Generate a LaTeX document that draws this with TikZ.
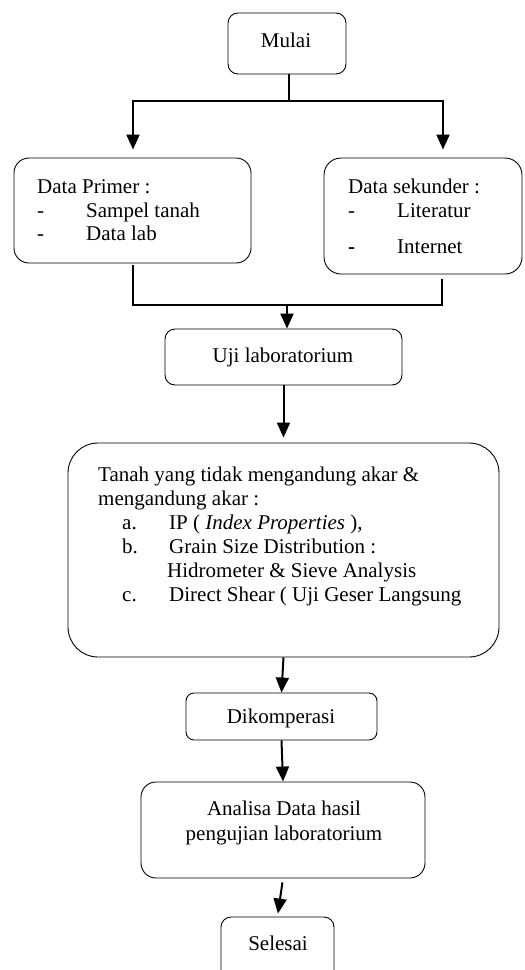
\documentclass[tikz,border=0pt]{standalone}
\usepackage{fontspec}
\setmainfont{Liberation Serif}
\usetikzlibrary{arrows.meta}
\begin{document}
\begin{tikzpicture}[x=1pt,y=-1pt,
  box/.style={draw, line width=0.9pt, rounded corners=#1, inner sep=0pt},
  box/.default=10pt,
  txt/.style={inner sep=0pt, anchor=base west, font=\fontsize{21}{24}\selectfont},
  ctxt/.style={inner sep=0pt, anchor=base, font=\fontsize{21}{24}\selectfont},
  flow/.style={line width=2pt, -{Triangle[length=15pt,width=13pt]}},
  link/.style={line width=1.8pt},
]
\useasboundingbox (0,0) rectangle (525,970);
\clip (0,0) rectangle (525,970);

% boxes
\node[box=10pt, minimum width=118pt, minimum height=61pt] (mulai) at (287,43.5) {};
\node[box=15pt, minimum width=237pt, minimum height=105pt] (primer) at (132.5,210.5) {};
\node[box=17pt, minimum width=198pt, minimum height=116pt] (sekunder) at (423,216) {};
\node[box=10pt, minimum width=237pt, minimum height=56pt] (uji) at (283.5,357) {};
\node[box=30pt, minimum width=431pt, minimum height=214pt] (tanah) at (283.5,550) {};
\node[box=8pt, minimum width=191pt, minimum height=47pt] (diko) at (281.5,716.5) {};
\node[box=15pt, minimum width=284pt, minimum height=96pt] (analisa) at (283,830) {};
\node[box=10pt, minimum width=113pt, minimum height=80pt] (selesai) at (277.5,957) {};

% texts
\node[ctxt] (mulaiT) at (286,47) {Mulai};

\node[txt] (p1) at (37,193) {Data Primer :};
\node[txt] (p2d) at (37,217) {-};
\node[txt] (p2) at (86,217) {Sampel tanah};
\node[txt] (p3d) at (37,240) {-};
\node[txt] (p3) at (86,240) {Data lab};

\node[txt] (s1) at (348,193) {Data sekunder :};
\node[txt] (s2d) at (348,217) {-};
\node[txt] (s2) at (397,217) {Literatur};
\node[txt] (s3d) at (348,253) {\textbf{-}};
\node[txt] (s3) at (397,253) {Internet};

\node[ctxt] (ujiT) at (283,362) {Uji laboratorium};

\node[txt] (t1) at (98,481) {Tanah yang tidak mengandung akar \&};
\node[txt] (t2) at (98,505) {mengandung akar :};
\node[txt] (t3a) at (122,529) {a.};
\node[txt] (t3) at (169,529) {IP ( \textit{Index Properties} ),};
\node[txt] (t4b) at (122,553) {b.};
\node[txt] (t4) at (169,553) {Grain Size Distribution :};
\node[txt] (t5) at (167,577) {Hidrometer \& Sieve Analysis};
\node[txt] (t6c) at (122,601) {c.};
\node[txt] (t6) at (169,601) {Direct Shear ( Uji Geser Langsung};

\node[ctxt] (dikoT) at (281,723) {Dikomperasi};
\node[ctxt] (a1) at (284,815) {Analisa Data hasil};
\node[ctxt] (a2) at (284,840) {pengujian laboratorium};
\node[ctxt] (selesaiT) at (278,950) {Selesai};

% connectors
\coordinate (split) at (289,101);
\coordinate (splitL) at (133,101);
\coordinate (splitR) at (443,101);
\draw[line width=1.3pt] (mulai.south -| split) -- (split);
\draw[link, line cap=rect] (splitL) -- (splitR);
\draw[flow, shorten >=8pt] (splitL) -- (splitL |- primer.north);
\draw[flow, shorten >=8pt] (splitR) -- (splitR |- sekunder.north);

\coordinate (mergeL) at (133,305);
\coordinate (mergeR) at (442,305);
\coordinate (merge) at (287,305);
\draw[link, shorten <=2pt, shorten >=5pt] (primer.south -| mergeL) -- (mergeL) -- (mergeR) -- (mergeR |- sekunder.south);
\draw[flow] (merge) -- (merge |- uji.north);
\draw[flow, shorten >=5pt] (uji.south) -- (tanah.north);
\draw[flow] (tanah.south) -- (diko.north);
\draw[flow] (diko.south) -- (analisa.north);
\draw[flow, shorten <=4pt, shorten >=3pt] (analisa.south) -- (selesai.north);
\end{tikzpicture}
\end{document}
